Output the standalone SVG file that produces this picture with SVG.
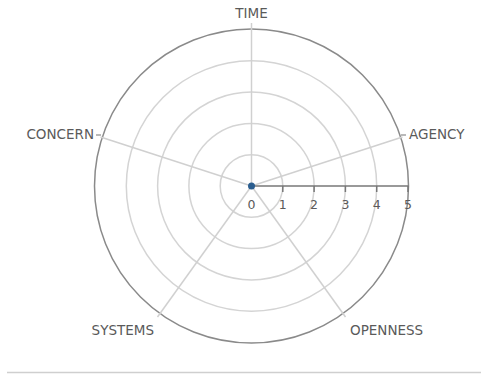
<svg xmlns="http://www.w3.org/2000/svg" width="488" height="375" viewBox="0 0 488 375">
<style>
.ring{fill:none;stroke:#d4d4d4;stroke-width:1.5}
.outer{fill:none;stroke:#8a8a8a;stroke-width:1.5}
.spoke{stroke:#d0d0d0;stroke-width:1.5}
.lbl{font-family:"DejaVu Sans",Verdana,sans-serif;font-size:13.5px;fill:#5a5a5a}
.tk{font-family:"DejaVu Sans",Verdana,sans-serif;font-size:12.5px;fill:#5a5a5a;text-anchor:middle}
.axis{stroke:#777;stroke-width:1.5}
</style>
<rect width="488" height="375" fill="#fff"/>
<g id="grid">
<circle class="ring" cx="251.5" cy="186" r="31.3"/>
<circle class="ring" cx="251.5" cy="186" r="62.6"/>
<circle class="ring" cx="251.5" cy="186" r="93.9"/>
<circle class="ring" cx="251.5" cy="186" r="125.2"/>
<circle class="outer" cx="251.5" cy="186" r="157"/>
</g>
<g id="connectors">
<line class="spoke" x1="251.5" y1="186" x2="251.5" y2="23"/>
<line class="spoke" x1="251.5" y1="186" x2="402.5" y2="137"/>
<line class="spoke" x1="251.5" y1="186" x2="345.5" y2="317"/>
<line class="spoke" x1="251.5" y1="186" x2="157.5" y2="317"/>
<line class="spoke" x1="251.5" y1="186" x2="100.5" y2="137"/>
<line stroke="#8a8a8a" stroke-width="1.2" x1="401" y1="135" x2="406" y2="135"/>
<line stroke="#8a8a8a" stroke-width="1.2" x1="96" y1="135" x2="101" y2="135"/>
</g>
<g id="axis">
<line class="axis" x1="251.5" y1="186" x2="408.5" y2="186"/>
<line class="axis" x1="282.8" y1="186" x2="282.8" y2="192"/>
<line class="axis" x1="314.1" y1="186" x2="314.1" y2="192"/>
<line class="axis" x1="345.4" y1="186" x2="345.4" y2="192"/>
<line class="axis" x1="376.7" y1="186" x2="376.7" y2="192"/>
<line class="axis" x1="408" y1="186" x2="408" y2="192"/>
<text class="tk" x="251.5" y="208.5">0</text>
<text class="tk" x="282.8" y="208.5">1</text>
<text class="tk" x="314.1" y="208.5">2</text>
<text class="tk" x="345.4" y="208.5">3</text>
<text class="tk" x="376.7" y="208.5">4</text>
<text class="tk" x="408" y="208.5">5</text>
</g>
<g id="time"><text class="lbl" x="251.5" y="18" text-anchor="middle">TIME</text></g>
<g id="agency"><text class="lbl" x="409" y="139">AGENCY</text></g>
<g id="openness"><text class="lbl" x="350" y="335">OPENNESS</text></g>
<g id="systems"><text class="lbl" x="154" y="335" text-anchor="end">SYSTEMS</text></g>
<g id="concern"><text class="lbl" x="94" y="139" text-anchor="end">CONCERN</text></g>
<circle id="origin" cx="251.5" cy="186" r="3.5" fill="#2a5d8f"/>
<line stroke="#cfcfcf" stroke-width="1.5" x1="7" y1="372.5" x2="481" y2="372.5"/>
</svg>
